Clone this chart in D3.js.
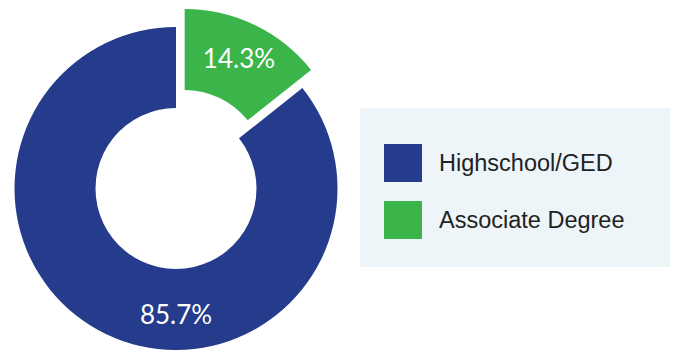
<!DOCTYPE html>
<html>
<head>
<meta charset="utf-8">
<script src="https://cdn.jsdelivr.net/npm/d3@7"></script>
<style>
  body { margin: 0; background: #fff; }
  svg { display: block; }
</style>
</head>
<body>
<script>
'use strict';

var categories = ["Highschool/GED", "Associate Degree"];
var values = [85.7, 14.3];
var colors = ["#253B8C", "#3BB54A"];

var chart = {};
chart.width = 673;
chart.height = 354;
chart.cx = 176;
chart.cy = 188.5;
chart.outer = 161.5;
chart.inner = 80.5;
chart.explode = 20;

chart.run = function(){

    var svg = d3.select("body").append("svg")
                .attr("width", chart.width)
                .attr("height", chart.height);

    var data = categories.map(function(c, i){
        return {name: c, value: values[i], color: colors[i]};
    });

    // small slice starts at 12 o'clock going clockwise, big one fills the rest
    var pie = d3.pie()
                .sort(null)
                .value(function(d){ return d.value; })
                .startAngle(2 * Math.PI * values[1] / 100)
                .endAngle(2 * Math.PI * (1 + values[1] / 100));

    var arcs = pie(data);

    var arc = d3.arc()
                .innerRadius(chart.inner)
                .outerRadius(chart.outer);

    var g = svg.append("g")
               .attr("transform", "translate(" + chart.cx + "," + chart.cy + ")");

    function offset(d){
        if (d.index !== 1) return [0, 0];
        var a = (d.startAngle + d.endAngle) / 2;
        return [Math.sin(a) * chart.explode, -Math.cos(a) * chart.explode];
    }

    var slices = g.selectAll(".slice")
        .data(arcs)
        .enter()
        .append("g")
        .classed("slice", true)
        .attr("transform", function(d){
            var o = offset(d);
            return "translate(" + o[0] + "," + o[1] + ")";
        });

    slices.append("path")
        .attr("d", arc)
        .style("fill", function(d){ return d.data.color; });

    var labelR = 125;
    slices.append("text")
        .attr("x", function(d){
            var a = (d.endAngle - d.startAngle) > Math.PI ? Math.PI : (d.startAngle + d.endAngle) / 2;
            return Math.sin(a) * labelR;
        })
        .attr("y", function(d){
            var a = (d.endAngle - d.startAngle) > Math.PI ? Math.PI : (d.startAngle + d.endAngle) / 2;
            return -Math.cos(a) * labelR;
        })
        .attr("text-anchor", "middle")
        .attr("dominant-baseline", "central")
        .style("font-family", "Lato, sans-serif")
        .style("font-size", "26px")
        .style("fill", "#fff")
        .text(function(d){ return d.data.value.toFixed(1) + "%"; });

    // legend
    var legend = svg.append("g").attr("transform", "translate(360,108)");
    legend.append("rect")
        .attr("width", 310)
        .attr("height", 159)
        .style("fill", "#EEF5F8");

    var items = legend.selectAll(".item")
        .data(data)
        .enter()
        .append("g")
        .classed("item", true)
        .attr("transform", function(d, i){ return "translate(24," + (36 + i * 57) + ")"; });

    items.append("rect")
        .attr("width", 38)
        .attr("height", 38)
        .style("fill", function(d){ return d.color; });

    items.append("text")
        .attr("x", 55)
        .attr("y", 27)
        .style("font-family", "'Liberation Sans', Arial, sans-serif")
        .style("font-size", "23.5px")
        .style("fill", "#222")
        .text(function(d){ return d.name; });
}

window.onload = chart.run;
</script>
</body>
</html>
